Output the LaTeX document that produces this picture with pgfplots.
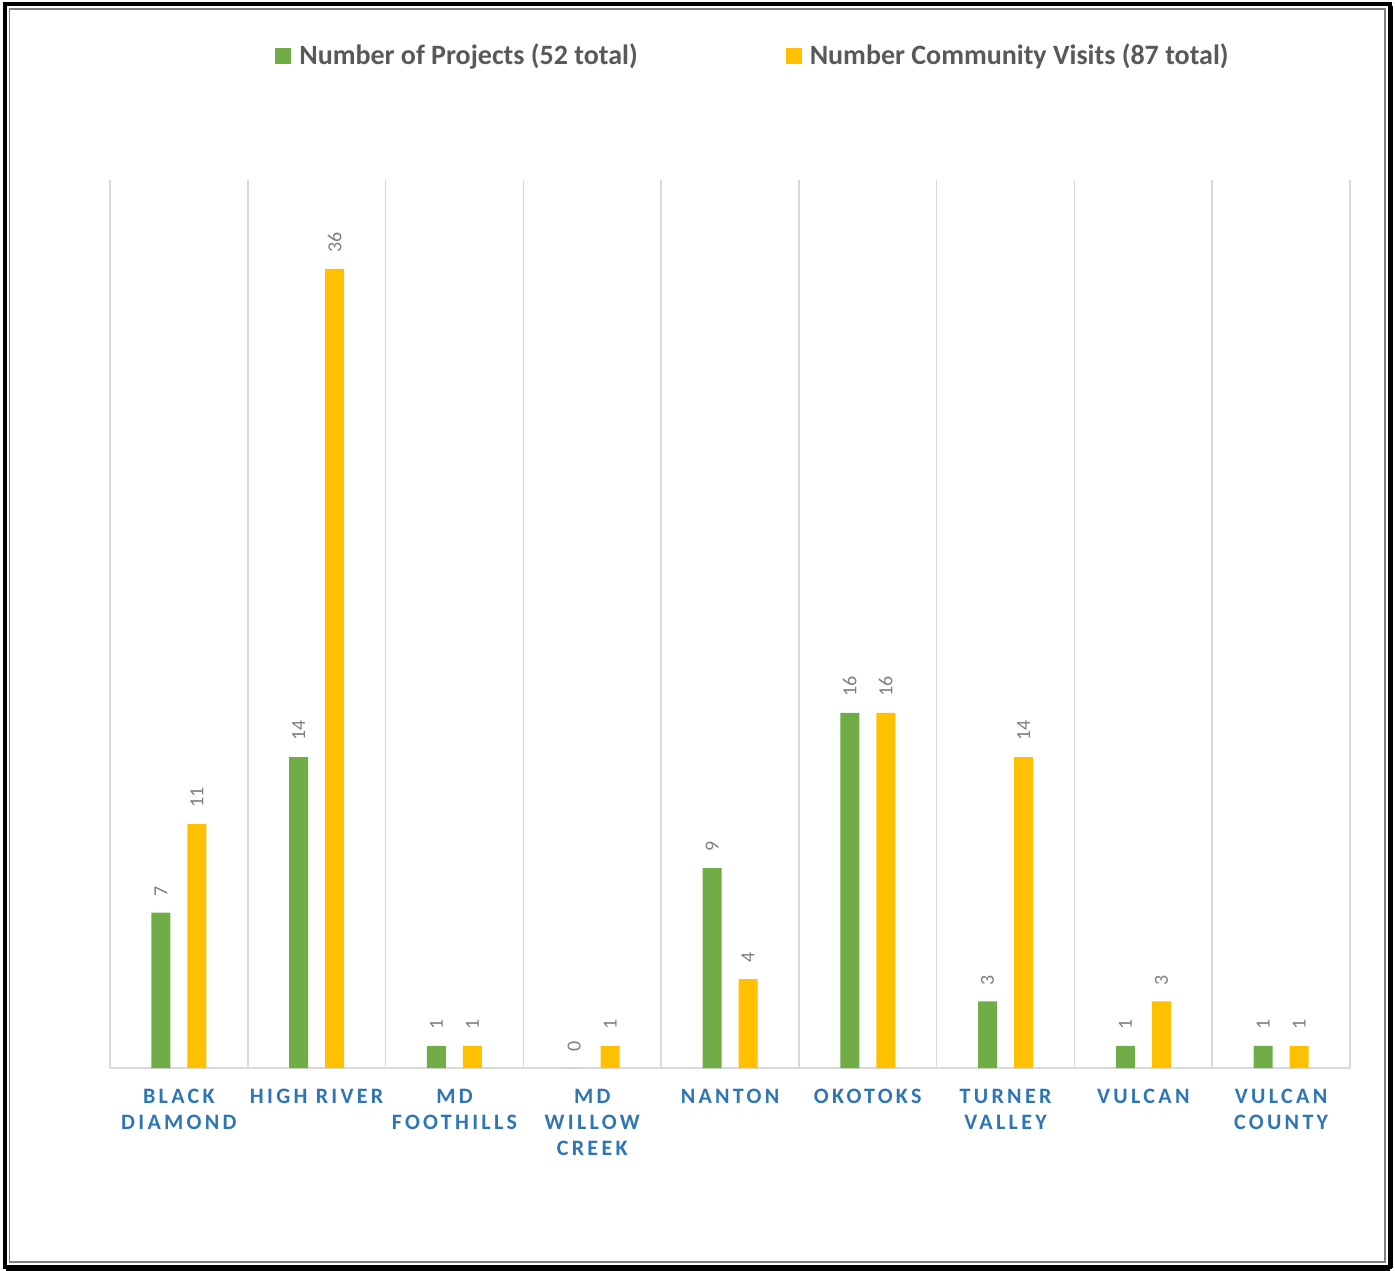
\documentclass[border=0pt]{standalone}
\usepackage{pgfplots}
\pgfplotsset{compat=1.18}
\usepackage{fontspec}
\setmainfont{Carlito}
\newfontfamily\tickfont[LetterSpace=15]{Carlito}
\definecolor{cgreen}{HTML}{70AD47}
\definecolor{cyellow}{HTML}{FFC000}
\definecolor{cblue}{HTML}{2E75B6}
\definecolor{ctext}{HTML}{595959}
\definecolor{clabel}{HTML}{808080}
\definecolor{cgrid}{HTML}{D9D9D9}
\begin{document}
\begin{tikzpicture}
\useasboundingbox (0,0) rectangle (697.5pt,635pt);
\draw[line width=2pt,black] (2.5pt,1.5pt) rectangle (695pt,633pt);
\draw[line width=2.5pt,black] (695pt,1pt) -- (695pt,632pt);
\draw[line width=2.5pt,black] (3pt,1pt) -- (695pt,1pt);
\draw[line width=0.6pt,gray] (4.6pt,4pt) rectangle (692.5pt,630.5pt);
\begin{axis}[
  at={(55pt,101pt)}, anchor=south west,
  width=620pt, height=444pt, scale only axis,
  ybar=8.5pt, bar width=9.5pt,
  xmin=-0.5, xmax=8.5, ymin=0, ymax=40,
  enlargelimits=false,
  axis x line*=bottom, axis y line=none,
  x axis line style={cgrid, line width=0.8pt},
  xtick={0,...,8},
  xticklabels={BLACK\\DIAMOND, HIGH RIVER, MD\\FOOTHILLS, MD\\WILLOW\\CREEK, NANTON, OKOTOKS, TURNER\\VALLEY, VULCAN, VULCAN\\COUNTY},
  xticklabel style={align=center, font=\fontsize{11pt}{13pt}\selectfont\tickfont\bfseries, text=cblue, yshift=-7pt},
  major tick length=0pt, minor tick length=0pt,
  minor xtick={-0.5,0.5,...,8.5},
  xminorgrids=true,
  minor x grid style={cgrid, line width=0.8pt},
  /pgf/number format/assume math mode=true,
  nodes near coords,
  every node near coord/.append style={rotate=90, anchor=west, font=\fontsize{10pt}{12pt}\selectfont, text=clabel, inner xsep=8pt},
  legend style={at={(0.5193,1.1396)}, anchor=center, draw=none, fill=none,
    legend columns=2, font=\fontsize{14pt}{16pt}\selectfont\bfseries, text=ctext,
    /tikz/every even column/.append style={column sep=72pt}},
  legend image code/.code={\fill[#1] (0pt,-4pt) rectangle (8pt,4pt); \path (10pt,0pt);},
]
\addplot[fill=cgreen, draw=none] coordinates {(0,7) (1,14) (2,1) (3,0) (4,9) (5,16) (6,3) (7,1) (8,1)};
\addplot[fill=cyellow, draw=none] coordinates {(0,11) (1,36) (2,1) (3,1) (4,4) (5,16) (6,14) (7,3) (8,1)};
\legend{Number of Projects (52 total), Number Community Visits (87 total)}
\end{axis}
\end{tikzpicture}
\end{document}
